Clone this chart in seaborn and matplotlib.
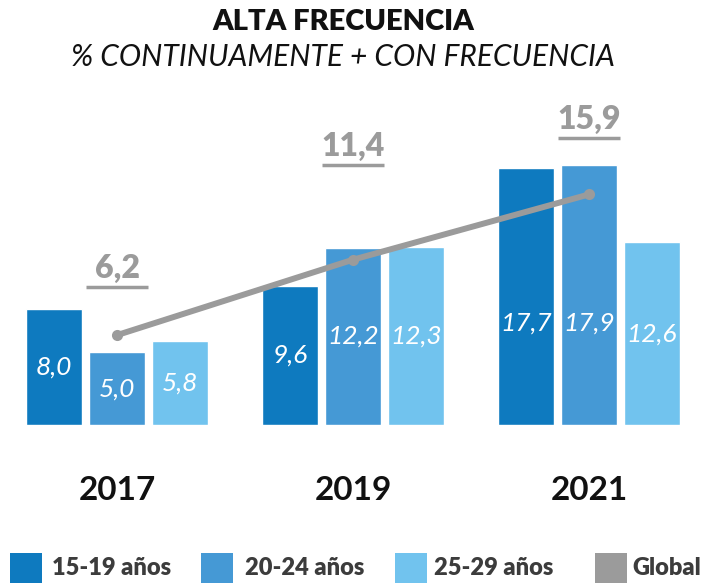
import numpy as np
import pandas as pd
import matplotlib
matplotlib.use("Agg")
import matplotlib.pyplot as plt
from matplotlib.patches import Rectangle
import seaborn as sns

# -----------------------------
# Data
# -----------------------------
years = ["2017", "2019", "2021"]
groups = ["15-19 años", "20-24 años", "25-29 años"]
v_15_19 = [8.0, 9.6, 17.7]
v_20_24 = [5.0, 12.2, 17.9]
v_25_29 = [5.8, 12.3, 12.6]
global_vals = [6.2, 11.4, 15.9]

colors = ["#0e7abf", "#4599d5", "#71c3ee"]
grey = "#9b9b9b"

df = pd.DataFrame({
    "Año": years * 3,
    "Grupo": [g for g in groups for _ in years],
    "Valor": v_15_19 + v_20_24 + v_25_29,
})

sns.set_theme(style="white")
plt.rcParams["font.family"] = ["Lato", "DejaVu Sans"]

W, H = 724, 583
fig = plt.figure(figsize=(W / 100, H / 100), dpi=100)
ax = fig.add_axes([0, 0.271, 1, 0.597])

sns.barplot(data=df, x="Año", y="Valor", hue="Grupo", order=years, hue_order=groups,
            palette=colors, width=0.8, gap=0.1, saturation=1, legend=False, ax=ax)

# global line through middle bars
sns.lineplot(x=np.arange(len(years)), y=global_vals, color=grey, linewidth=4.3,
             marker="o", markersize=8, markeredgewidth=0, ax=ax)

ax.set_xlim(-0.496, 2.572)
ax.set_ylim(0, 24)
ax.axis("off")

# values inside bars
for cont in ax.containers:
    for bar in cont:
        h = bar.get_height()
        ax.text(bar.get_x() + bar.get_width() / 2, min(h / 2, 7.0), f"{h:.1f}".replace(".", ","),
                color="white", fontsize=19, fontstyle="italic", fontweight="normal",
                ha="center", va="center")

# global labels (underlined)
label_y = [10.8, 19.2, 21.1]
for i, (v, ly) in enumerate(zip(global_vals, label_y)):
    ax.text(i, ly, f"{v:.1f}".replace(".", ","), color=grey, fontsize=23,
            fontweight="heavy", ha="center", va="center")
    ax.hlines(ly - 1.3, i - 0.13, i + 0.13, color=grey, linewidth=2.5)

# year labels
for i, y in enumerate(years):
    ax.text(i, -4.5, y, color="#111111", fontsize=24, fontweight="bold",
            ha="center", va="center", clip_on=False)

fig.text(0.474, 0.962, "ALTA FRECUENCIA", ha="center", va="center",
         fontsize=21, fontweight="heavy", color="#111111")
fig.text(0.474, 0.902, "% CONTINUAMENTE + CON FRECUENCIA", ha="center", va="center",
         fontsize=21.5, fontstyle="italic", color="#111111")

# legend
legend_colors = colors + [grey]
legend_labels = groups + ["Global"]
sq_x = [10, 201, 395, 595]
txt_x = [52, 245, 434, 632]
for c, lab, sx, tx in zip(legend_colors, legend_labels, sq_x, txt_x):
    fig.patches.append(Rectangle((sx / W, 0), 32 / W, 30 / H, transform=fig.transFigure,
                                 facecolor=c, edgecolor="none"))
    fig.text(tx / W, 1 - 568 / H, lab, ha="left", va="center", fontsize=17,
             fontweight="heavy", color="#3c3c3c")

fig.savefig("out.png", dpi=100)
